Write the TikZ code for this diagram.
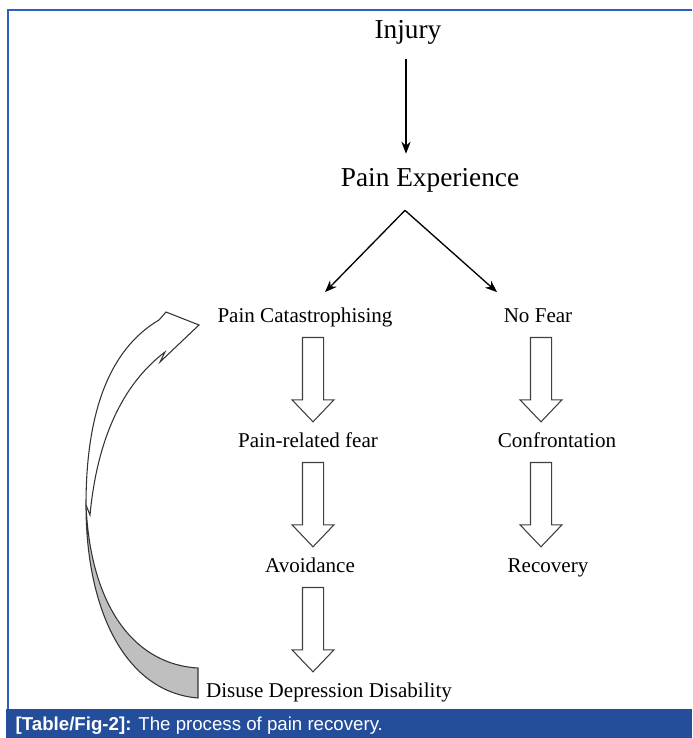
\documentclass[tikz,border=0pt]{standalone}
\usepackage{fontspec}
\setmainfont{Liberation Serif}
\newfontfamily\captionFont{Liberation Sans}
\usepackage{tikz}
\usetikzlibrary{calc, arrows.meta}
\definecolor{frameColor}{RGB}{45,95,195}
\definecolor{barColor}{RGB}{36,78,156}
\tikzstyle{canvas} = [x = 0.75pt, y = -0.75pt]
\tikzstyle{bigLabel} = [font=\fontsize{20.5}{24}\selectfont, inner sep=0, anchor=base]
\tikzstyle{stepLabel} = [font=\fontsize{15.8}{19}\selectfont, inner sep=0, anchor=base, text height=0.7em, text depth=0.22em]
\tikzstyle{thinArrow} = [-{Stealth[length=9pt, width=7pt]}, line width=1pt]
\tikzstyle{blockArrowStyle} = [draw=black!75, fill=white, line width=0.8pt]
\tikzstyle{curveFrontStyle} = [draw=black!80, fill=white, line width=0.8pt, line join=miter]
\tikzstyle{curveBackStyle} = [draw=black!80, fill=black!25, line width=0.8pt]
\newcommand{\shaftHalf}{7.9pt}
\newcommand{\headHalf}{15.75pt}
\newcommand{\blockArrow}[3]{\draw [blockArrowStyle] let \p1 = ($(#1.center) + (#3, 0)$), \p2 = (#2.center) in
  (\x1 - \shaftHalf, \y1 - 14pt) -- (\x1 + \shaftHalf, \y1 - 14pt) -- (\x1 + \shaftHalf, \y2 + 33pt)
  -- (\x1 + \headHalf, \y2 + 33pt) -- (\x1, \y2 + 16.5pt) -- (\x1 - \headHalf, \y2 + 33pt)
  -- (\x1 - \shaftHalf, \y2 + 33pt) -- cycle;}

\begin{document}
\begin{tikzpicture}[canvas]
  \useasboundingbox (0,0) rectangle (692,738);
  \fill [barColor] (6,709) rectangle (692,738);
  \draw [frameColor, line width=1.5pt] (8,709) -- (8,10) -- (692,10);
  \node [anchor=base west, text=white, font=\captionFont\fontsize{14}{16}\selectfont] (caption) at (11,730)
    {\textbf{[Table/Fig-2]:} The process of pain recovery.};

  \node [bigLabel] (injury) at (408,38.5) {Injury};
  \node [bigLabel] (experience) at (430,186.5) {Pain Experience};
  \node [stepLabel] (catastrophising) at (305,322) {Pain Catastrophising};
  \node [stepLabel] (noFear) at (538,322) {No Fear};
  \node [stepLabel] (fear) at (308,447) {Pain-related fear};
  \node [stepLabel] (confrontation) at (557,447) {Confrontation};
  \node [stepLabel] (avoidance) at (310,572) {Avoidance};
  \node [stepLabel] (recovery) at (548,572) {Recovery};
  \node [stepLabel] (disuse) at (329,697) {Disuse Depression Disability};

  \draw [thinArrow] ([xshift=-1.5pt, yshift=-20.25pt]injury.center) -- ([xshift=-18pt, yshift=20pt]experience.center);
  \draw [thinArrow] ([xshift=-18.75pt, yshift=-22.5pt]experience.center) -- ([xshift=15pt, yshift=20pt]catastrophising.center);
  \draw [thinArrow] ([xshift=-18.75pt, yshift=-22.5pt]experience.center) -- ([xshift=-30.75pt, yshift=20pt]noFear.center);

  \blockArrow{catastrophising}{fear}{8}
  \blockArrow{fear}{avoidance}{5}
  \blockArrow{avoidance}{disuse}{3}
  \blockArrow{noFear}{confrontation}{3}
  \blockArrow{confrontation}{recovery}{-16}

  \filldraw [curveFrontStyle] (86,505) .. controls (86,415) and (108,350) .. (159,320) -- (166,312) -- (199,325)
    -- (160,362) -- (165,352) .. controls (128,380) and (98,430) .. (90,515) -- cycle;
  \filldraw [curveBackStyle] (198,698) .. controls (125,692) and (86,610) .. (86,505)
    .. controls (90,600) and (130,664) .. (198,668) -- cycle;
\end{tikzpicture}
\end{document}
